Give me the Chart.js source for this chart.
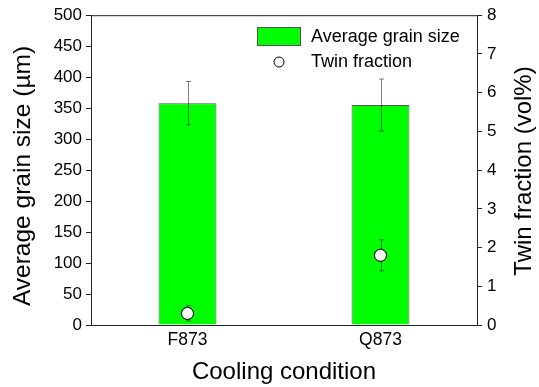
<!DOCTYPE html>
<html>
<head>
<meta charset="utf-8">
<script src="https://cdn.jsdelivr.net/npm/chart.js@4/dist/chart.umd.min.js"></script>
<style>
  html, body { margin: 0; padding: 0; background: #fff; }
  #wrap { width: 539px; height: 387px; }
</style>
</head>
<body>
<div id="wrap"><canvas id="chart" width="539" height="387"></canvas></div>
<script>
// data
const categories = ['F873', 'Q873'];
const grainSize = [358, 355];
const grainErr = [35, 42];
const twinFraction = [0.3, 1.8];
const twinErr = [0.2, 0.4];
const leftTicks = [0, 50, 100, 150, 200, 250, 300, 350, 400, 450, 500];
const rightTicks = [0, 1, 2, 3, 4, 5, 6, 7, 8];

const FONT = "'Liberation Sans', Arial, sans-serif";
const GREEN = '#00ff00';
const AXIS = '#222';

// error bars, top frame, legend, y axis titles
const extras = {
    id: 'extras',
    afterDatasetsDraw(chart) {
        const ctx = chart.ctx;
        const x = chart.scales.x, y = chart.scales.y, y2 = chart.scales.y2;
        const area = chart.chartArea;
        ctx.save();

        // error bars
        ctx.strokeStyle = 'rgba(0,0,0,0.5)';
        ctx.lineWidth = 1;
        const cap = 2.5;
        function errBar(px, top, bot) {
            ctx.beginPath();
            ctx.moveTo(px, top); ctx.lineTo(px, bot);
            ctx.moveTo(px - cap, top); ctx.lineTo(px + cap, top);
            ctx.moveTo(px - cap, bot); ctx.lineTo(px + cap, bot);
            ctx.stroke();
        }
        categories.forEach((c, i) => {
            const px = Math.round(x.getPixelForValue(i)) + 0.5;
            errBar(px, y.getPixelForValue(grainSize[i] + grainErr[i]), y.getPixelForValue(grainSize[i] - grainErr[i]));
            errBar(px, y2.getPixelForValue(twinFraction[i] + twinErr[i]), y2.getPixelForValue(twinFraction[i] - twinErr[i]));
        });

        // circles on top of the error bars
        chart.getDatasetMeta(1).data.forEach(pt => {
            ctx.beginPath();
            ctx.arc(pt.x, pt.y, 6, 0, Math.PI * 2);
            ctx.fillStyle = '#fff';
            ctx.fill();
            ctx.strokeStyle = '#000';
            ctx.stroke();
        });

        // top frame line
        ctx.strokeStyle = AXIS;
        ctx.beginPath();
        ctx.moveTo(area.left, area.top + 0.5);
        ctx.lineTo(area.right, area.top + 0.5);
        ctx.stroke();

        // legend
        ctx.fillStyle = GREEN;
        ctx.fillRect(257.5, 27.5, 43, 18);
        ctx.strokeStyle = '#555';
        ctx.strokeRect(257.5, 27.5, 43, 18);
        ctx.beginPath();
        ctx.arc(279, 62, 5, 0, Math.PI * 2);
        ctx.fillStyle = '#fff';
        ctx.fill();
        ctx.strokeStyle = '#000';
        ctx.stroke();
        ctx.fillStyle = '#000';
        ctx.font = '18px ' + FONT;
        ctx.textBaseline = 'middle';
        ctx.textAlign = 'left';
        ctx.fillText('Average grain size', 311, 37);
        ctx.fillText('Twin fraction', 311, 62);

        // y axis titles, reading bottom to top
        ctx.textAlign = 'center';
        ctx.save();
        ctx.translate(23, 176);
        ctx.rotate(-Math.PI / 2);
        ctx.font = '24.5px ' + FONT;
        ctx.fillText('Average grain size (\u00b5m)', 0, 0);
        ctx.restore();

        ctx.translate(524, 171);
        ctx.rotate(-Math.PI / 2);
        ctx.font = '24px ' + FONT;
        ctx.fillText('Twin fraction (vol%)', 0, 0);
        ctx.restore();
    }
};

new Chart(document.getElementById('chart'), {
    data: {
        labels: categories,
        datasets: [{
            type: 'bar',
            label: 'Average grain size',
            data: grainSize,
            yAxisID: 'y',
            backgroundColor: GREEN,
            borderColor: '#555',
            borderWidth: 1,
            categoryPercentage: 1,
            barPercentage: 0.3,
            order: 2
        }, {
            type: 'line',
            label: 'Twin fraction',
            data: twinFraction,
            yAxisID: 'y2',
            showLine: false,
            pointRadius: 6,
            pointBackgroundColor: '#fff',
            pointBorderColor: '#000',
            pointBorderWidth: 1,
            order: 1
        }]
    },
    options: {
        responsive: false,
        animation: false,
        layout: { padding: { top: 15, left: 0, right: 0, bottom: 0 } },
        plugins: { legend: { display: false }, tooltip: { enabled: false } },
        scales: {
            x: {
                offset: true,
                grid: { display: false, drawTicks: false },
                border: { color: AXIS },
                ticks: { color: '#000', font: { family: FONT, size: 17.5 }, padding: 5 },
                title: { display: true, text: 'Cooling condition', color: '#000', font: { family: FONT, size: 24 }, padding: { top: 0, bottom: 0 } },
                afterFit: s => { s.height = 62; }
            },
            y: {
                position: 'left',
                min: 0, max: 500,
                afterBuildTicks: s => { s.ticks = leftTicks.map(v => ({ value: v })); },
                grid: { drawOnChartArea: false, tickLength: 5, color: AXIS },
                border: { color: AXIS },
                ticks: { color: '#000', font: { family: FONT, size: 17 }, padding: 4 },
                title: { display: false },
                afterFit: s => { s.width = 91; }
            },
            y2: {
                position: 'right',
                min: 0, max: 8,
                afterBuildTicks: s => { s.ticks = rightTicks.map(v => ({ value: v })); },
                grid: { drawOnChartArea: false, tickLength: 5, color: AXIS },
                border: { color: AXIS },
                ticks: { color: '#000', font: { family: FONT, size: 17 }, padding: 5 },
                title: { display: false },
                afterFit: s => { s.width = 62; }
            }
        }
    },
    plugins: [extras]
});
</script>
</body>
</html>
